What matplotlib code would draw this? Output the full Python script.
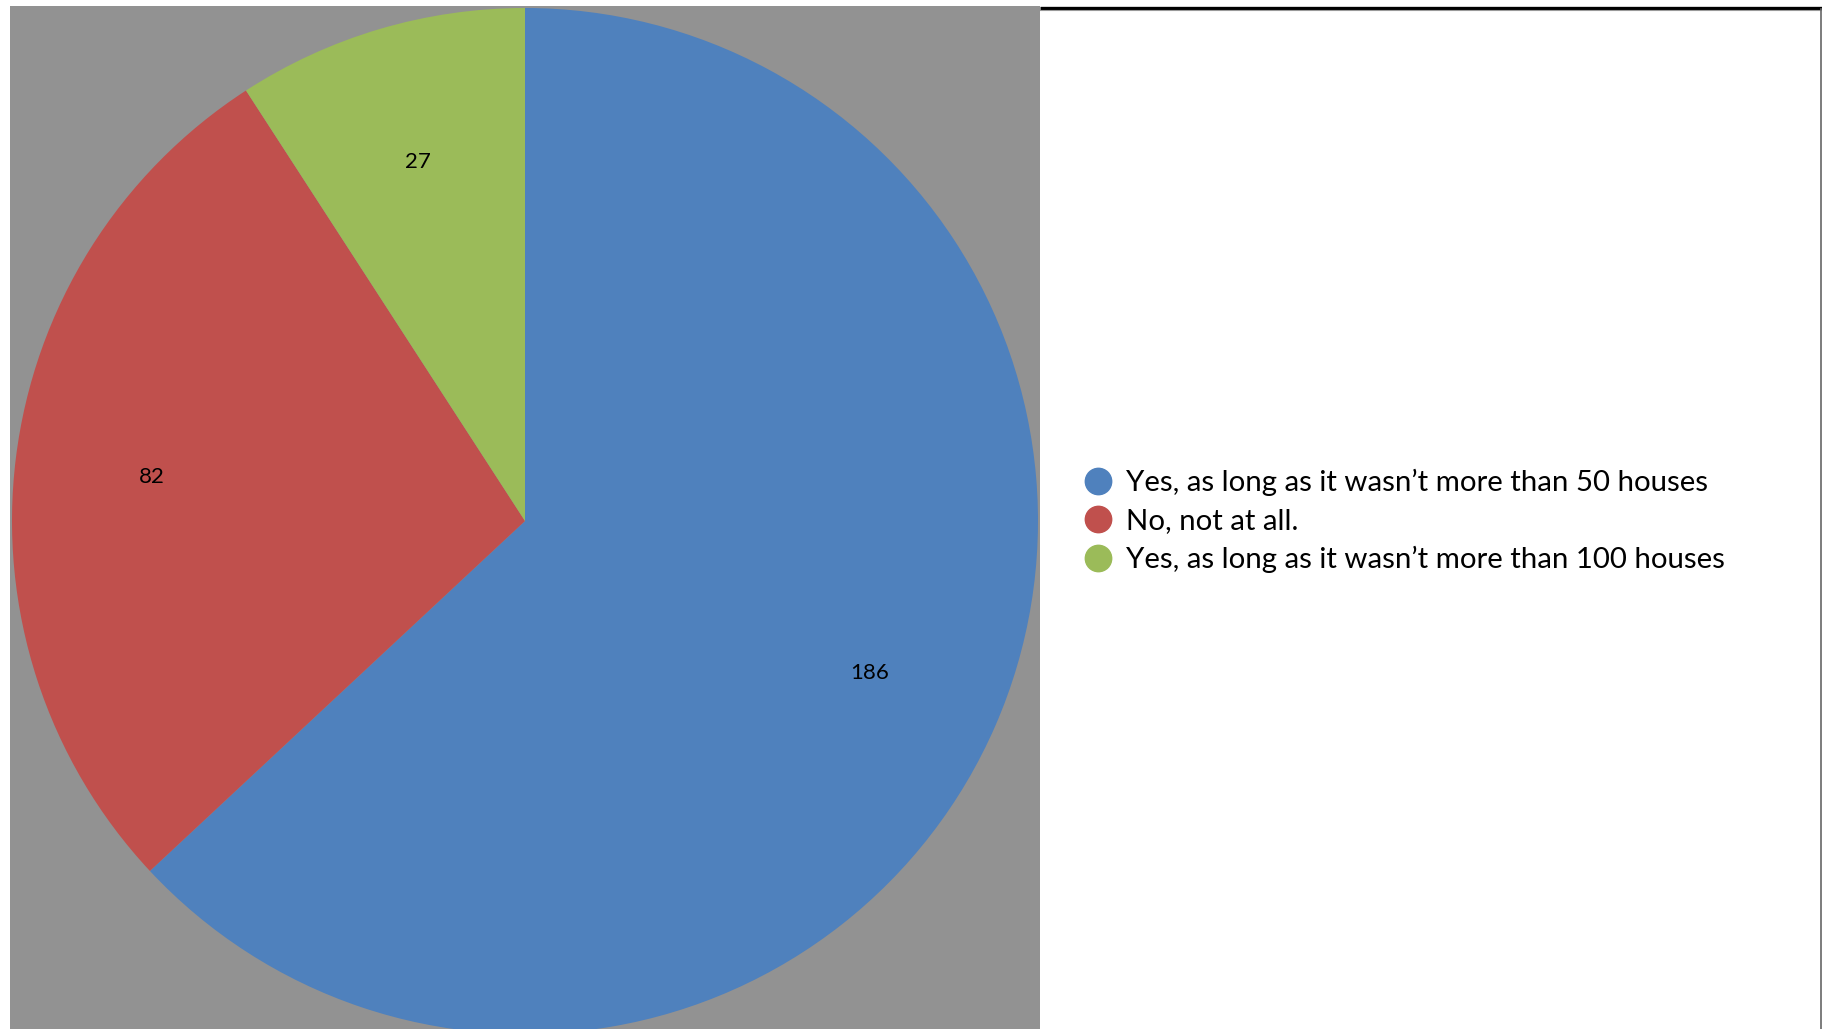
import matplotlib
matplotlib.use("Agg")
import matplotlib.pyplot as plt
from matplotlib.lines import Line2D
from matplotlib.patches import Rectangle

categories = ["Yes, as long as it wasn\u2019t more than 50 houses",
              "No, not at all.",
              "Yes, as long as it wasn\u2019t more than 100 houses"]
values = [186, 82, 27]
colors = ["#4F81BD", "#C0504D", "#9BBB59"]

W, H = 1822, 1029
plt.rcParams['font.family'] = ['Lato', 'DejaVu Sans']
fig = plt.figure(figsize=(W / 100, H / 100), dpi=100)
fig.patch.set_facecolor("white")
ax = fig.add_axes([0, 0, 1, 1])

# gray plot panel
ax.add_patch(Rectangle((10, 0), 1030, H - 6, facecolor="#929292", edgecolor="none", zorder=0))

total = sum(values)
wedges, texts, autotexts = ax.pie(
    values, colors=colors, startangle=90, counterclock=False,
    center=(525, H - 521), radius=513,
    autopct=lambda p: f"{round(p * total / 100)}", pctdistance=0.733,
    textprops=dict(fontsize=16, color="black"),
    wedgeprops=dict(linewidth=0),
)
for t in autotexts:
    t.set_verticalalignment("center_baseline")
ax.set_xlim(0, W)
ax.set_ylim(0, H)
ax.set_aspect("equal")
ax.axis("off")

# frame lines on the right panel
ax.plot([1040, W], [H - 7.5, H - 7.5], color="black", lw=2.4, solid_capstyle="butt", zorder=5)
ax.plot([1040, W], [H - 9.5, H - 9.5], color="#9a9a9a", lw=0.8, zorder=5)
ax.plot([W - 1.5, W - 1.5], [0, H - 9], color="#666666", lw=1.2, zorder=5)

handles = [Line2D([], [], marker="o", linestyle="none", markersize=19,
                  markerfacecolor=c, markeredgecolor=c) for c in colors]
leg = ax.legend(handles, categories, loc="center left",
                bbox_to_anchor=(1083 / W, 1 - 521 / H), frameon=False,
                fontsize=21.2, handletextpad=0.45, labelspacing=0.4,
                handlelength=1.0, borderpad=0, borderaxespad=0)

fig.savefig("out.png", dpi=100, facecolor="white")
